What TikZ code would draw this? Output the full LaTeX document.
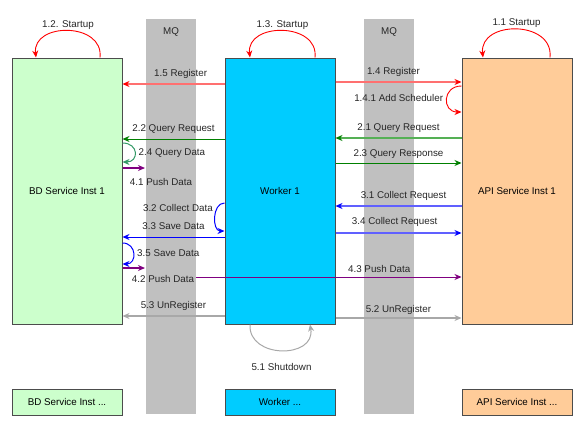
\documentclass[tikz,border=0pt]{standalone}
\usepackage{fontspec}
\setmainfont{Liberation Sans}
\usepackage{tikz}
\usetikzlibrary{arrows.meta,positioning}

\definecolor{bdfill}{HTML}{CCFFCC}
\definecolor{wkfill}{HTML}{00CCFF}
\definecolor{apifill}{HTML}{FFCC99}
\definecolor{lanegray}{HTML}{C0C0C0}
\definecolor{regline}{HTML}{FF7070}
\definecolor{qgreen}{HTML}{008000}
\definecolor{qgreenlt}{HTML}{55B055}
\definecolor{qteal}{HTML}{339966}
\definecolor{cblue}{HTML}{0000FF}
\definecolor{cbluelt}{HTML}{6060FF}
\definecolor{ppurple}{HTML}{800080}
\definecolor{ugray}{HTML}{A8A8A8}

\begin{document}
\begin{tikzpicture}[x=1pt,y=-1pt,
  font=\fontsize{9.8}{11.5}\selectfont,
  box/.style={draw=black!70,line width=1pt,minimum width=110pt,minimum height=266pt},
  smallbox/.style={box,minimum height=26pt},
  lane/.style={fill=lanegray,minimum width=50pt,minimum height=395pt,inner sep=0pt},
  lbl/.style={text=black!85,text height=7pt,text depth=2pt},
  tip/.style={-{Stealth[length=7pt,width=6pt,color=#1]}},
  reg/.style={draw=regline,line width=1.2pt,tip=red},
  start/.style={draw=red,line width=0.9pt,tip=red}]
\useasboundingbox (0,0) rectangle (584,426);

% message queues
\node[lane] (mqa) at (171,216.5) {};
\node[lane] (mqb) at (389,216.5) {};
\node[lbl,below=5pt of mqa.north] (mqatxt) {MQ};
\node[lbl,below=5pt of mqb.north] (mqbtxt) {MQ};

% services
\node[box,fill=bdfill] (bd) at (67,191) {BD Service Inst 1};
\node[box,fill=wkfill] (wk) at (280,191) {Worker 1};
\node[box,fill=apifill] (api) at (517,191) {API Service Inst 1};
\node[smallbox,fill=bdfill] (bdn) at (67,402) {BD Service Inst ...};
\node[smallbox,fill=wkfill] (wkn) at (280,402) {Worker ...};
\node[smallbox,fill=apifill] (apin) at (517,402) {API Service Inst ...};

% free ends
\coordinate (pusha) at (145,168);
\coordinate (pushb) at (145,268);
\coordinate (pushc) at (196,277);

% 1. startup and register
\draw[start] (bd.north -| 100,0) .. controls (104,22) and (32,22) .. node[lbl,pos=.5,above=-2pt]{1.2. Startup} (bd.north -| 36,0);
\draw[start] (wk.north -| 315,0) .. controls (319,22) and (246,22) .. node[lbl,pos=.5,above=-2pt]{1.3. Startup} (wk.north -| 250,0);
\draw[start] (api.north -| 550,0) .. controls (554,20) and (479,20) .. node[lbl,pos=.5,above=-2pt]{1.1 Startup} (api.north -| 483,0);
\draw[reg] (wk.west |- 0,84) -- node[lbl,pos=.43,above=2pt]{1.5 Register} (bd.east |- 0,84);
\draw[reg] (wk.east |- 0,82) -- node[lbl,pos=.46,above=2pt]{1.4 Register} (api.west |- 0,82);
\draw[start] (api.west |- 0,86) .. controls (442,86) and (442,112) .. node[lbl,pos=.5,left]{1.4.1 Add Scheduler} (api.west |- 0,112);

% 2. query
\draw[draw=qgreenlt,line width=1.2pt,tip=qgreen] (api.west |- 0,138) -- node[lbl,midway,above=2pt]{2.1 Query Request} (wk.east |- 0,138);
\draw[draw=qgreen,line width=1pt,tip=qgreen] (wk.west |- 0,139) -- node[lbl,midway,above=2pt]{2.2 Query Request} (bd.east |- 0,139);
\draw[draw=qgreen,line width=1pt,tip=qgreen] (wk.east |- 0,163) -- node[lbl,midway,above=1pt]{2.3 Query Response} (api.west |- 0,163);
\draw[draw=qteal,line width=1pt,tip=qteal] (bd.east |- 0,143) .. controls (139,143) and (139,162) .. node[lbl,pos=.5,right]{2.4 Query Data} (bd.east |- 0,162);

% 3. collect
\draw[draw=cbluelt,line width=1.2pt,tip=cblue] (api.west |- 0,206) -- node[lbl,pos=.46,above=2pt]{3.1 Collect Request} (wk.east |- 0,206);
\draw[draw=cblue,line width=1pt,tip=cblue] (wk.west |- 0,203) .. controls (212,203) and (212,231) .. node[lbl,pos=.3,left]{3.2 Collect Data} (wk.west |- 0,231);
\draw[draw=cblue,line width=1pt,tip=cblue] (wk.west |- 0,237) -- node[lbl,midway,above=2pt]{3.3 Save Data} (bd.east |- 0,237);
\draw[draw=cbluelt,line width=1.5pt,tip=cblue] (wk.east |- 0,233) -- node[lbl,pos=.47,above=2pt]{3.4 Collect Request} (api.west |- 0,233);
\draw[draw=cblue,line width=1pt,tip=cblue] (bd.east |- 0,243) .. controls (137,243) and (137,264) .. node[lbl,pos=.5,right]{3.5 Save Data} (bd.east |- 0,264);

% 4. push
\draw[draw=ppurple,line width=1.2pt,tip=ppurple] (bd.east |- pusha) -- node[lbl,pos=1,below=7pt,xshift=16pt]{4.1 Push Data} (pusha);
\draw[draw=ppurple,line width=1.2pt,tip=ppurple] (bd.east |- pushb) -- node[lbl,pos=1,below=4pt,xshift=18pt]{4.2 Push Data} (pushb);
\draw[draw=ppurple,line width=0.9pt,tip=ppurple] (pushc) -- node[lbl,pos=.69,above=-1pt]{4.3 Push Data} (api.west |- pushc);

% 5. shutdown
\draw[draw=ugray,line width=1pt,tip=ugray] (wk.south -| 250,0) .. controls (248,359) and (316,359) .. node[lbl,pos=.5,below=9pt]{5.1 Shutdown} (wk.south -| 310,0);
\draw[draw=ugray,line width=1.2pt,tip=ugray] (wk.east |- 0,318) -- node[lbl,midway,above=0pt]{5.2 UnRegister} (api.west |- 0,318);
\draw[draw=ugray,line width=1.2pt,tip=ugray] (wk.west |- 0,316) -- node[lbl,midway,above=2pt]{5.3 UnRegister} (bd.east |- 0,316);
\end{tikzpicture}
\end{document}
